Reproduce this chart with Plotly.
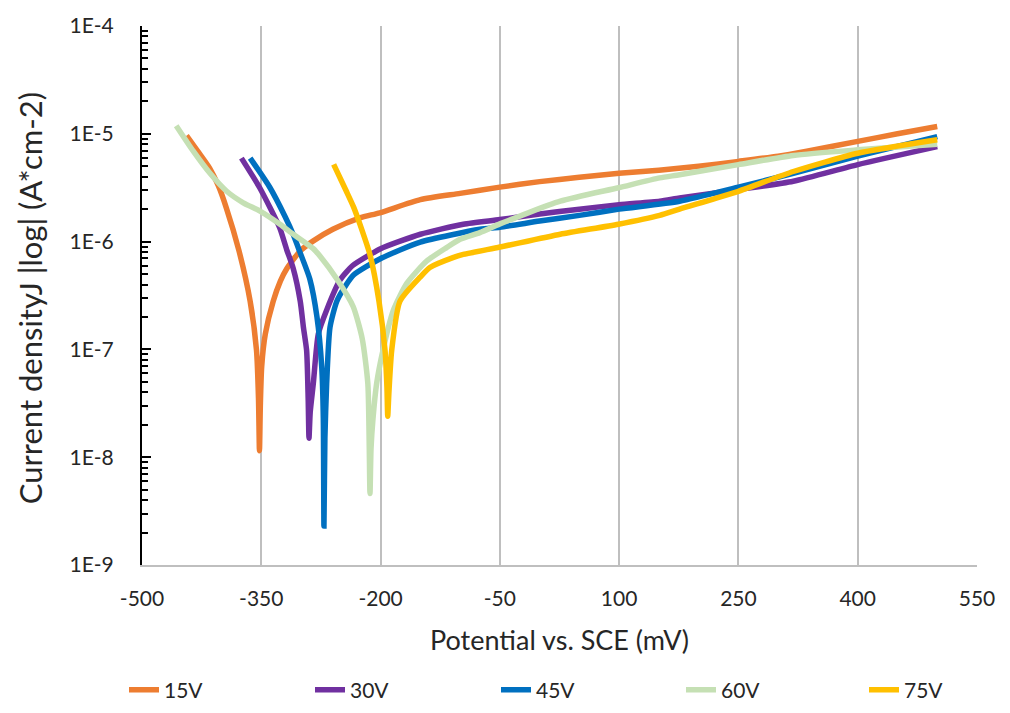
import plotly.graph_objects as go

# ---- data (potential in mV vs SCE, current density in A/cm2) ----
series_names = ["15V", "30V", "45V", "60V", "75V"]
series_colors = ["#ED7D31", "#7030A0", "#0070C0", "#C5E0B4", "#FFC000"]

e_15 = [-444, -430, -415, -404, -394, -378, -364, -356, -353.5, -352.3, -351.2, -349.5, -345, -335,
        -326, -318, -301, -285, -260, -226, -201, -150, -100, -50, 0, 50, 100, 150, 200, 250, 300,
        336, 400, 450, 500]
j_15 = [9.6e-6, 6.9e-6, 4.8e-6, 3.3e-6, 2.06e-6, 8.2e-7, 2.8e-7, 9.8e-8, 3.5e-8, 1.15e-8, 3.0e-8,
        6.9e-8, 1.38e-7, 2.8e-7, 4.3e-7, 5.6e-7, 8.2e-7, 1.01e-6, 1.3e-6, 1.66e-6, 1.85e-6,
        2.45e-6, 2.8e-6, 3.2e-6, 3.6e-6, 3.95e-6, 4.3e-6, 4.6e-6, 5.0e-6, 5.55e-6, 6.2e-6,
        6.9e-6, 8.5e-6, 1.0e-5, 1.17e-5]

e_30 = [-375, -352, -327, -318, -310, -301, -297, -293, -291, -290, -288.5, -284.6, -278.3, -268,
        -251, -235, -213, -200, -150, -96, -50, 0, 50, 100, 151, 176, 250, 319, 400, 500]
j_30 = [5.95e-6, 3.16e-6, 1.35e-6, 8.4e-7, 5.7e-7, 2.8e-7, 1.6e-7, 9.8e-8, 3.4e-8, 1.5e-8, 2.6e-8,
        4.8e-8, 1.39e-7, 2.3e-7, 4.4e-7, 6.0e-7, 7.6e-7, 8.6e-7, 1.17e-6, 1.45e-6, 1.6e-6,
        1.8e-6, 2.0e-6, 2.2e-6, 2.37e-6, 2.54e-6, 3.04e-6, 3.63e-6, 5.18e-6, 7.6e-6]

e_45 = [-364, -339, -320, -310, -302, -289, -280, -274, -272, -271.2, -270, -267.8, -263.6, -255,
        -243, -234, -201, -150, -75, -50, 0, 50, 100, 176, 250, 319, 400, 500]
j_45 = [5.95e-6, 3.16e-6, 1.7e-6, 1.17e-6, 8.2e-7, 4.5e-7, 2.0e-7, 6.9e-8, 2.3e-8, 2.3e-9, 1.5e-8,
        4.8e-8, 1.6e-7, 2.8e-7, 4.0e-7, 4.9e-7, 6.9e-7, 9.9e-7, 1.3e-6, 1.36e-6, 1.55e-6,
        1.75e-6, 2.0e-6, 2.37e-6, 3.2e-6, 4.3e-6, 6.2e-6, 9.4e-6]

e_60 = [-457, -435.5, -414.5, -393.5, -372.6, -351.6, -326.5, -309.7, -284.6, -276, -255, -234.5,
        -223, -216, -213.3, -212, -209.5, -205, -197, -184, -167, -142, -117, -100, -75, -50, 26,
        99, 151, 176, 250, 319, 400, 500]
j_60 = [1.19e-5, 6.9e-6, 4.3e-6, 2.93e-6, 2.29e-6, 1.92e-6, 1.45e-6, 1.17e-6, 8.6e-7, 7.3e-7,
        4.5e-7, 2.5e-7, 1.25e-7, 4.8e-8, 4.6e-9, 1.2e-8, 2.3e-8, 4.8e-8, 9.8e-8, 2.3e-7, 4.1e-7,
        6.6e-7, 8.8e-7, 1.05e-6, 1.21e-6, 1.46e-6, 2.37e-6, 3.16e-6, 3.9e-6, 4.17e-6, 5.18e-6,
        6.3e-6, 7.1e-6, 8.0e-6]

e_75 = [-259, -243, -234, -226, -213, -202, -194.4, -192, -191, -189.5, -186, -175.6, -150, -138,
        -109, -96, -50, 26, 99, 151, 176, 250, 319, 400, 500]
j_75 = [5.2e-6, 2.93e-6, 2.1e-6, 1.45e-6, 7.4e-7, 2.8e-7, 9.8e-8, 4.5e-8, 2.4e-8, 4.0e-8, 9.8e-8,
        2.8e-7, 4.7e-7, 5.75e-7, 7.1e-7, 7.6e-7, 8.9e-7, 1.17e-6, 1.45e-6, 1.75e-6, 2.0e-6,
        2.93e-6, 4.47e-6, 6.6e-6, 8.8e-6]

x_ticks = [-500, -350, -200, -50, 100, 250, 400, 550]
x_tick_text = ["-500", "-350", "-200", "-50", "100", "250", "400", "550"]
y_ticks = [1e-9, 1e-8, 1e-7, 1e-6, 1e-5, 1e-4]
y_tick_text = ["1E-9", "1E-8", "1E-7", "1E-6", "1E-5", "1E-4"]
y_minor = [m * 10.0 ** p for p in range(-9, -4) for m in range(2, 10)]

x_title = "Potential vs. SCE (mV)"
y_title = "Current densityJ |log| (A*cm-2)"

x_data = [e_15, e_30, e_45, e_60, e_75]
y_data = [j_15, j_30, j_45, j_60, j_75]

FONT = "Lato, 'Open Sans', sans-serif"
TXT = "#262626"

# legend text start positions in pixels (one legend per series, evenly spread)
legend_text_px = [172, 358, 544, 729, 912]
legend_ids = ["legend", "legend2", "legend3", "legend4", "legend5"]

fig = go.Figure()
for name, col, xs, ys, lid in zip(series_names, series_colors, x_data, y_data, legend_ids):
    fig.add_trace(go.Scatter(x=xs, y=ys, mode="lines", name=name, legend=lid,
                             line=dict(color=col, width=5.5, shape="spline", smoothing=0.6)))

layout_legends = {}
for lid, tx in zip(legend_ids, legend_text_px):
    layout_legends[lid] = dict(orientation="h", xref="container", yref="container",
                               x=(tx - 48) / 1010, y=(713 - 690) / 713,
                               xanchor="left", yanchor="middle",
                               bgcolor="rgba(0,0,0,0)",
                               font=dict(family=FONT, size=21, color=TXT))

fig.update_layout(
    width=1010, height=713,
    margin=dict(l=142, r=33, t=24, b=148),
    plot_bgcolor="white", paper_bgcolor="white",
    font=dict(family=FONT, size=20, color=TXT),
    showlegend=True,
    **layout_legends,
)
fig.add_annotation(text=y_title, textangle=-90, xref="paper", yref="paper",
                   x=(30 - 142) / 835, y=0.495, xanchor="center", yanchor="middle",
                   showarrow=False, font=dict(family=FONT, size=31, color=TXT))
fig.update_xaxes(
    range=[-500, 550], tickmode="array", tickvals=x_ticks, ticktext=x_tick_text,
    showgrid=True, gridcolor="#BFBFBF", gridwidth=2, zeroline=False,
    showline=True, linecolor="#BFBFBF", linewidth=2, ticks="",
    ticklabelstandoff=14,
    tickfont=dict(family=FONT, size=21, color=TXT),
    title=dict(text=x_title, font=dict(family=FONT, size=27, color=TXT), standoff=22),
)
fig.update_yaxes(
    type="log", range=[-9, -4], tickmode="array", tickvals=y_ticks, ticktext=y_tick_text,
    showgrid=False, zeroline=False, showline=True, linecolor="black", linewidth=2,
    ticks="inside", ticklen=9, tickwidth=2, tickcolor="black",
    minor=dict(tickmode="array", tickvals=y_minor, ticks="inside", ticklen=6, tickwidth=1.5,
               tickcolor="black", showgrid=False),
    ticklabelstandoff=22,
    tickfont=dict(family=FONT, size=21, color=TXT),
)

fig.write_html("out.html")
